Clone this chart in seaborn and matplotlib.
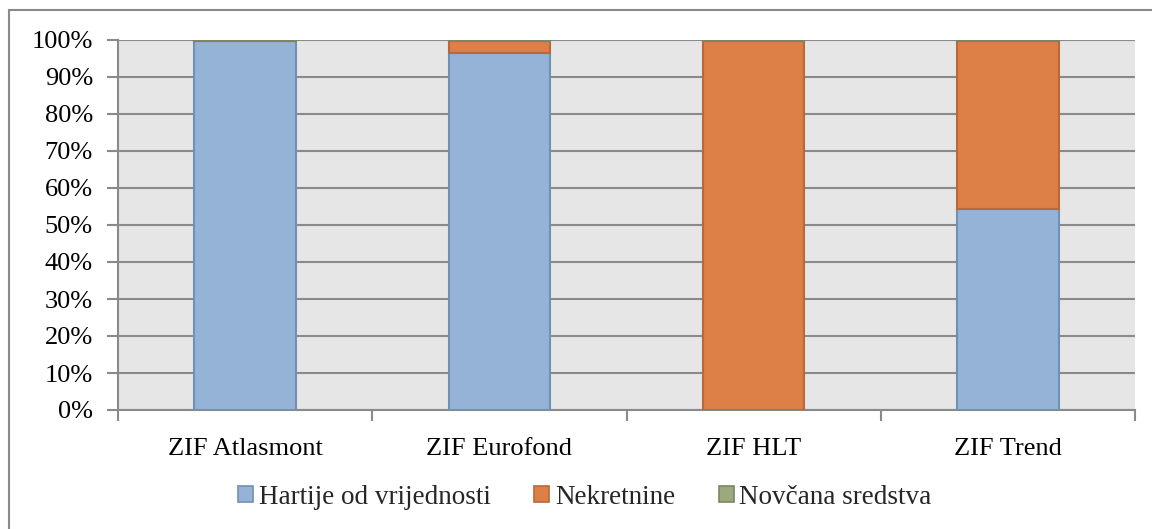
"""
Stacked 100% column chart - structure of ZIF fund assets
"""

import numpy as np
import pandas as pd
import matplotlib
matplotlib.use('Agg')
import matplotlib.pyplot as plt
from matplotlib.patches import Rectangle, Patch
from matplotlib.ticker import FixedLocator, PercentFormatter
import seaborn as sns

# Data (percent of total assets)
funds = ['ZIF Atlasmont', 'ZIF Eurofond', 'ZIF HLT', 'ZIF Trend']
hartije = [99.7, 96.6, 0.0, 54.3]
nekretnine = [0.0, 3.1, 99.8, 45.5]
novcana = [0.3, 0.3, 0.2, 0.2]
series_names = ['Hartije od vrijednosti', 'Nekretnine', 'Novčana sredstva']

face_colors = ['#95B3D7', '#DD8047', '#9BA97C']
edge_colors = ['#7090B4', '#B8683A', '#7C8760']

sns.set_style('white')
plt.rcParams['font.family'] = ['Liberation Serif', 'DejaVu Serif']

fig = plt.figure(figsize=(11.52, 5.29), dpi=100)
ax = fig.add_axes([118 / 1152, 1 - 410 / 529, (1135 - 118) / 1152, 370 / 529])
ax.set_facecolor('#E6E6E6')

df = pd.DataFrame({'fund': funds, 'Hartije': hartije,
                   'Nekretnine': nekretnine, 'Novcana': novcana})
bottoms = np.zeros(len(funds))
for col, name, fc, ec in zip(['Hartije', 'Nekretnine', 'Novcana'], series_names,
                             face_colors, edge_colors):
    sns.barplot(data=df, x='fund', y=col, ax=ax, color=fc, edgecolor=ec,
                linewidth=1.5, width=0.4, bottom=bottoms, saturation=1,
                err_kws={'linewidth': 0}, zorder=3)
    bottoms = bottoms + df[col].to_numpy()

ax.set_ylim(0, 100)
ax.set_xlim(-0.5, 3.5)
ax.yaxis.set_major_locator(FixedLocator(np.arange(0, 101, 10)))
ax.yaxis.set_major_formatter(PercentFormatter(decimals=0))
ax.grid(axis='y', color='#8A8A8A', linewidth=1.5, zorder=0)
ax.set_axisbelow(True)
ax.set_xlabel('')
ax.set_ylabel('')

ax.tick_params(axis='y', length=8, width=1.5, color='#8A8A8A', labelsize=19,
               labelcolor='black', pad=10, left=True)
ax.tick_params(axis='x', which='major', length=0, labelsize=19,
               labelcolor='black', pad=20)
ax.set_xticks([-0.5, 0.5, 1.5, 2.5, 3.5], minor=True)
ax.tick_params(axis='x', which='minor', length=8, width=1.5, color='#8A8A8A',
               bottom=True)

for side in ['top', 'right']:
    ax.spines[side].set_visible(False)
for side in ['left', 'bottom']:
    ax.spines[side].set_color('#8A8A8A')
    ax.spines[side].set_linewidth(1.5)

handles = [Patch(facecolor=fc, edgecolor=ec, linewidth=1.2)
           for fc, ec in zip(face_colors, edge_colors)]
fig.legend(handles, series_names, loc='center', bbox_to_anchor=(585 / 1152, 1 - 497 / 529),
           ncol=3, frameon=False, fontsize=19.5, handlelength=0.55, handleheight=0.55,
           handletextpad=0.22, columnspacing=1.6)

# chart area border (cropped on the right and bottom in the reference)
fig.patches.append(Rectangle((9 / 1152, -0.2), 1.5, 1.2 - 10 / 529,
                             transform=fig.transFigure, fill=False,
                             edgecolor='#8A8A8A', linewidth=1.5))

fig.savefig('out.png', dpi=100)
